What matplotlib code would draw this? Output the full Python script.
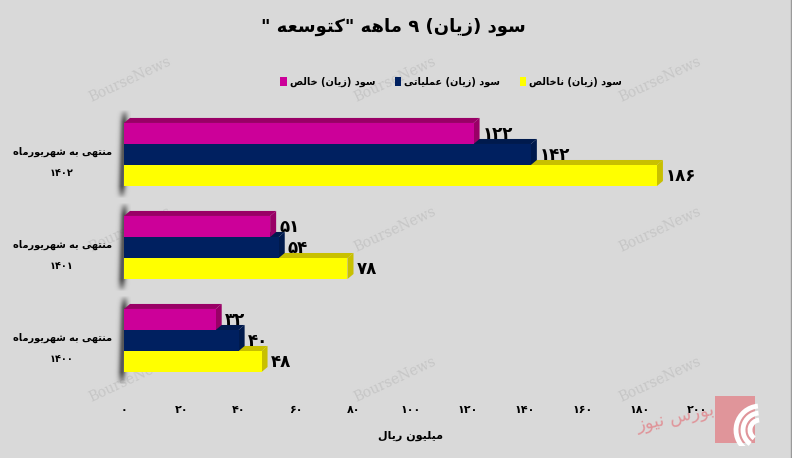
import re
import numpy as np
import matplotlib
matplotlib.use('Agg')
import matplotlib.pyplot as plt
from matplotlib.patches import Polygon, Rectangle, Arc

# data (میلیون ریال)
periods = ['۱۴۰۰', '۱۴۰۱', '۱۴۰۲']
gross_profit = [48, 78, 186]       # سود (زیان) ناخالص
operating_profit = [40, 54, 142]   # سود (زیان) عملیاتی
net_profit = [32, 51, 122]         # سود (زیان) خالص
x_ticks = [0, 20, 40, 60, 80, 100, 120, 140, 160, 180, 200]

title = 'سود (زیان) ۹ ماهه "کتوسعه "'
period_prefix = 'منتهی به شهریورماه'
series_names = ['سود (زیان) ناخالص', 'سود (زیان) عملیاتی', 'سود (زیان) خالص']
x_label = 'میلیون ریال'

# matplotlib has no arabic shaping, so pick presentation forms by hand
# (isolated, final, initial, medial)
FORMS = {
    'ا': ('\uFE8D', '\uFE8E', None, None),
    'ب': ('\uFE8F', '\uFE90', '\uFE91', '\uFE92'),
    'ت': ('\uFE95', '\uFE96', '\uFE97', '\uFE98'),
    'خ': ('\uFEA5', '\uFEA6', '\uFEA7', '\uFEA8'),
    'د': ('\uFEA9', '\uFEAA', None, None),
    'ر': ('\uFEAD', '\uFEAE', None, None),
    'ز': ('\uFEAF', '\uFEB0', None, None),
    'س': ('\uFEB1', '\uFEB2', '\uFEB3', '\uFEB4'),
    'ش': ('\uFEB5', '\uFEB6', '\uFEB7', '\uFEB8'),
    'ص': ('\uFEB9', '\uFEBA', '\uFEBB', '\uFEBC'),
    'ع': ('\uFEC9', '\uFECA', '\uFECB', '\uFECC'),
    'ل': ('\uFEDD', '\uFEDE', '\uFEDF', '\uFEE0'),
    'م': ('\uFEE1', '\uFEE2', '\uFEE3', '\uFEE4'),
    'ن': ('\uFEE5', '\uFEE6', '\uFEE7', '\uFEE8'),
    'ه': ('\uFEE9', '\uFEEA', '\uFEEB', '\uFEEC'),
    'و': ('\uFEED', '\uFEEE', None, None),
    'ی': ('\uFBFC', '\uFBFD', '\uFBFE', '\uFBFF'),
    'ک': ('\uFB8E', '\uFB8F', '\uFB90', '\uFB91'),
}


def fa(s):
    out = []
    for i, ch in enumerate(s):
        if ch not in FORMS:
            out.append(ch)
            continue
        f = FORMS[ch]
        prev = s[i - 1] if i > 0 else ''
        nxt = s[i + 1] if i + 1 < len(s) else ''
        jp = prev in FORMS and FORMS[prev][2] is not None
        jn = f[2] is not None and nxt in FORMS
        if jp and jn:
            out.append(f[3])
        elif jp:
            out.append(f[1])
        elif jn:
            out.append(f[2])
        else:
            out.append(f[0])
    vis = ''.join(out)[::-1]
    vis = vis.translate(str.maketrans('()', ')('))
    vis = re.sub('[\u06F0-\u06F9]+', lambda m: m.group(0)[::-1], vis)
    return vis


def fa_num(n):
    return str(n).translate(str.maketrans('0123456789', '۰۱۲۳۴۵۶۷۸۹'))


BG = '#d9d9d9'
front = ['#ffff00', '#002060', '#cc0099']
dark = ['#c8c000', '#001a4d', '#990066']

plt.rcParams['font.family'] = ['DejaVu Sans']
plt.rcParams['font.weight'] = 'bold'

fig = plt.figure(figsize=(7.92, 4.58), dpi=100, facecolor=BG)
ax = fig.add_axes([0.1204, 0.1347, 0.8682, 0.6498])
ax.set_facecolor('none')
ax.set_xlim(-10, 230)
ax.set_ylim(-0.6, 2.6)
for s in ax.spines.values():
    s.set_visible(False)

# watermarks, behind the chart
for wy in [80, 230, 380]:
    for wx in [130, 395, 660]:
        fig.text(wx / 792, 1 - wy / 458, 'BourseNews', family='DejaVu Serif',
                 fontweight='normal', fontsize=10, color='#c6c6c6',
                 rotation=25, ha='center', va='center', zorder=-1)

y = np.arange(len(periods))
h = 0.226
ddx, ddy = 2.1, 0.054   # 3d depth in data units

# back wall shadow behind each group
xs = np.linspace(-4, 2, 40)
ys = np.linspace(-1, 1, 60)
gx, gy = np.meshgrid(xs, ys)
alpha = np.exp(-((gx + 0.6 - 0.5 * gy) / 1.3) ** 2) * np.clip(1.4 - np.abs(gy) ** 4 * 1.4, 0, 1) * 0.9
shadow = np.zeros((60, 40, 4))
shadow[..., :3] = 0.28
shadow[..., 3] = alpha
for yc in y:
    ax.imshow(shadow, extent=[-4, 2, yc - 0.48, yc + 0.48], origin='lower',
              aspect='auto', zorder=1, interpolation='bilinear')

series = [gross_profit, operating_profit, net_profit]
offsets = [-h, 0, h]
for k in range(3):
    vals = series[k]
    yy = y + offsets[k]
    for v, yc in zip(vals, yy):
        y0, y1 = yc - h / 2, yc + h / 2
        ax.add_patch(Polygon([(v, y0), (v + ddx, y0 + ddy), (v + ddx, y1 + ddy), (v, y1)],
                             closed=True, fc=dark[k], ec='none', zorder=2 + k))
        ax.add_patch(Polygon([(0, y1), (ddx, y1 + ddy), (v + ddx, y1 + ddy), (v, y1)],
                             closed=True, fc=dark[k], ec='none', zorder=2 + k))
        ax.text(v + ddx + 1, yc - 0.01, fa_num(v), fontsize=12, fontweight='bold',
                ha='left', va='center', zorder=6)
    ax.barh(yy, vals, height=h, color=front[k], label=fa(series_names[k]), zorder=2 + k)

ax.set_xticks(x_ticks, [fa_num(t) for t in x_ticks])
ax.set_yticks(y - 0.02, [fa(period_prefix) + '\n' + p for p in periods])
ax.tick_params(axis='both', length=0)
ax.tick_params(axis='x', pad=6.5, labelsize=8)
ax.tick_params(axis='y', pad=24, labelsize=7)
for t in ax.get_yticklabels():
    t.set_ha('center')
    t.set_multialignment('center')
    t.set_linespacing(2.3)
ax.set_xlabel(fa(x_label), fontsize=8, fontweight='bold')
ax.xaxis.set_label_coords(0.458, -0.117)

fig.text(393 / 792, 1 - 27 / 458, fa(title), fontsize=13, fontweight='bold',
         ha='center', va='center')

handles, labels = ax.get_legend_handles_labels()
fig.legend(handles[::-1], labels[::-1], loc='center', bbox_to_anchor=(451 / 792, 1 - 82 / 458),
           ncol=3, frameon=False, fontsize=7, handlelength=0.7, handleheight=1.0,
           handletextpad=0.3, columnspacing=2.0)

# logo
lax = fig.add_axes([705 / 792, 1 - 446 / 458, 62 / 792, 52 / 458])
lax.set_xlim(0, 62)
lax.set_ylim(0, 52)
lax.axis('off')
lax.add_patch(Rectangle((10, 3), 40, 47, fc='#e0959a', ec='none'))
for r in [10, 17, 24]:
    lax.add_patch(Arc((55, 16), 2 * r, 2 * r, theta1=95, theta2=235, color='white', lw=3.5))
fig.text(676 / 792, 1 - 418 / 458, fa('بورس نیوز'), family='DejaVu Sans', fontsize=13,
         fontweight='normal', color='#e0959a', ha='center', va='center', rotation=12)

fig.add_artist(plt.Line2D([790.5 / 792] * 2, [0, 1], color='#9a9a9a', lw=1))

fig.savefig('out.png', dpi=100, facecolor=BG)
